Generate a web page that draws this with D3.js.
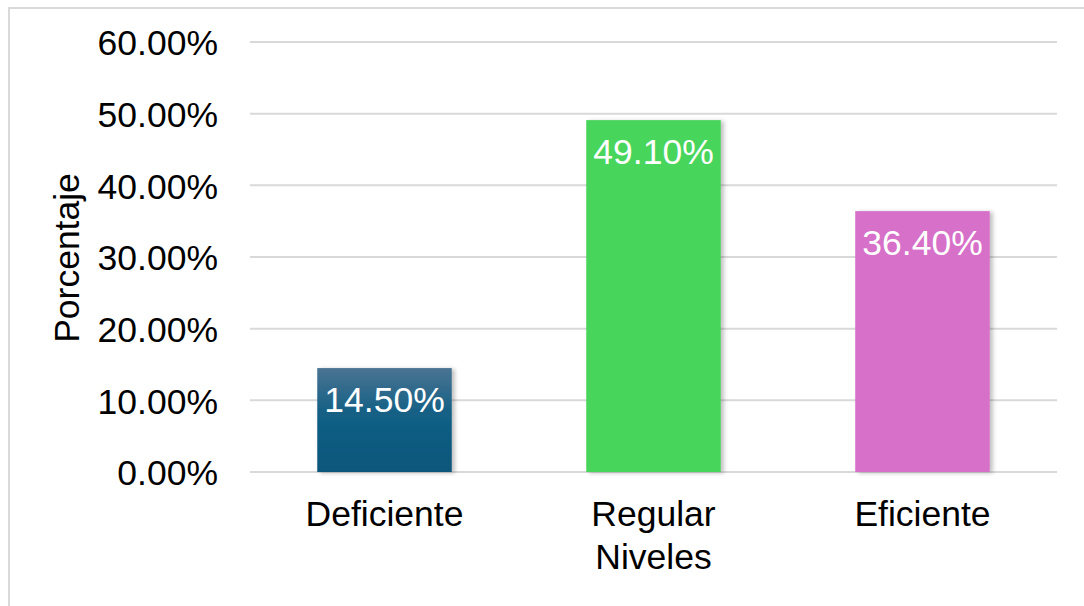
<!DOCTYPE html>
<html><head><meta charset="utf-8">
<script src="https://cdn.jsdelivr.net/npm/d3@7"></script>
<style>body{margin:0;background:#fff}svg{display:block}</style>
</head><body>
<script>
const categories = ["Deficiente", "Regular", "Eficiente"];
const values = [0.145, 0.491, 0.364];
const barColors = ["#11608a", "#47d55c", "#d66fc8"];
const yTicks = [0, 0.1, 0.2, 0.3, 0.4, 0.5, 0.6];
const yTitle = "Porcentaje";
const xTitle = "Niveles";

const W = 1084, H = 606;
const svg = d3.select("body").append("svg").attr("width", W).attr("height", H);
const font = "'Liberation Sans', Arial, sans-serif";
const fs = 35.5;

const defs = svg.append("defs");
const g0 = defs.append("linearGradient").attr("id", "gDef").attr("x1", 0).attr("y1", 0).attr("x2", 0).attr("y2", 1);
g0.append("stop").attr("offset", "0%").attr("stop-color", "#4a7492");
g0.append("stop").attr("offset", "45%").attr("stop-color", "#125f85");
g0.append("stop").attr("offset", "100%").attr("stop-color", "#0c567a");
const f = defs.append("filter").attr("id", "sh").attr("x", "-10%").attr("y", "-10%").attr("width", "130%").attr("height", "120%");
f.append("feDropShadow").attr("dx", 3).attr("dy", 1).attr("stdDeviation", 2).attr("flood-color", "#000").attr("flood-opacity", 0.25);

// outer border
svg.append("rect").attr("x", 9).attr("y", 8).attr("width", 1090).attr("height", 610)
  .attr("fill", "none").attr("stroke", "#d9d9d9").attr("stroke-width", 2);

const m = {left: 250, right: 1057, top: 42, bottom: 472};
const x = d3.scaleBand().domain(categories).range([m.left, m.right]).paddingInner(0.5).paddingOuter(0.25);
const y = d3.scaleLinear().domain([0, 0.6]).range([m.bottom, m.top]);

// gridlines
svg.append("g").selectAll("line").data(yTicks).join("line")
  .attr("x1", m.left).attr("x2", m.right)
  .attr("y1", d => y(d)).attr("y2", d => y(d))
  .attr("stroke", "#d9d9d9").attr("stroke-width", 2);

// y axis labels
const yAxis = d3.axisLeft(y).tickValues(yTicks).tickFormat(d3.format(".2%")).tickSize(0).tickPadding(0);
const ya = svg.append("g").attr("transform", "translate(218,0)").call(yAxis);
ya.select(".domain").remove();
ya.selectAll("text").attr("font-family", font).attr("font-size", fs).attr("fill", "#000").attr("dy", "0.36em");

// bars
svg.append("g").selectAll("rect").data(values).join("rect")
  .attr("x", (d, i) => x(categories[i]))
  .attr("width", x.bandwidth())
  .attr("y", d => y(d))
  .attr("height", d => y(0) - y(d))
  .attr("fill", (d, i) => i === 0 ? "url(#gDef)" : barColors[i])
  .attr("filter", "url(#sh)");

// data labels
svg.append("g").selectAll("text").data(values).join("text")
  .attr("x", (d, i) => x(categories[i]) + x.bandwidth() / 2)
  .attr("y", d => y(d) + 44)
  .attr("text-anchor", "middle")
  .attr("font-family", font).attr("font-size", fs).attr("fill", "#fff")
  .text(d => d3.format(".2%")(d));

// x axis labels
const xAxis = d3.axisBottom(x).tickSize(0).tickPadding(0);
const xa = svg.append("g").attr("transform", `translate(0,${m.bottom})`).call(xAxis);
xa.select(".domain").remove();
xa.selectAll("text").attr("font-family", font).attr("font-size", fs).attr("fill", "#000").attr("dy", null).attr("y", 54);

// titles
svg.append("text").attr("x", (m.left + m.right) / 2).attr("y", 569).attr("text-anchor", "middle")
  .attr("font-family", font).attr("font-size", fs).attr("fill", "#000").text(xTitle);
svg.append("text").attr("transform", "translate(79,258) rotate(-90)").attr("text-anchor", "middle")
  .attr("font-family", font).attr("font-size", fs).attr("fill", "#000").text(yTitle);
</script>
</body></html>
